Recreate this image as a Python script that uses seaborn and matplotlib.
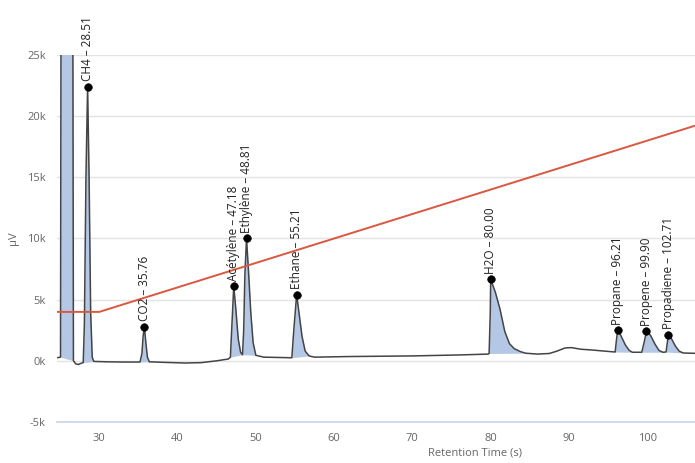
import numpy as np
import pandas as pd
import matplotlib
matplotlib.use("Agg")
import matplotlib.pyplot as plt
import seaborn as sns

# chromatogram trace (time in s, signal in uV)
trace_t = [24.6, 25.05, 25.12, 26.62, 26.7, 27.0, 27.3, 27.7, 27.95,
           28.1, 28.3, 28.51, 28.7, 28.9, 29.1, 29.3,
           31.0, 33.0, 35.2, 35.45, 35.6, 35.76, 35.95, 36.15, 36.4,
           38.0, 41.0, 43.0, 45.0, 46.5,
           46.75, 46.95, 47.18, 47.45, 47.75, 48.05, 48.3,
           48.45, 48.6, 48.81, 49.05, 49.35, 49.65, 50.0, 51.0,
           54.6, 54.85, 55.21, 55.5, 55.9, 56.3, 56.8, 57.5,
           62.0, 70.0, 76.0, 79.7,
           79.8, 79.95, 80.0, 80.6, 81.2, 81.8, 82.4, 83.0, 83.8, 84.5, 86.0, 87.5,
           88.5, 89.5, 90.3, 91.5, 93.0, 95.5,
           95.9, 96.05, 96.21, 96.6, 97.2, 97.7, 98.1,
           99.3, 99.6, 99.9, 100.4, 101.0, 101.5, 102.0,
           102.4, 102.55, 102.71, 103.1, 103.6, 104.1, 104.6, 106.2]
trace_v = [250, 300, 30000, 30000, 0, -250, -300, -200, -150,
           3000, 15000, 22400, 15000, 4000, 300, -50,
           -80, -100, -100, 600, 2000, 2800, 1500, 300, -80,
           -120, -180, -150, 0, 150,
           300, 3000, 6100, 4200, 1800, 700, 500,
           2500, 7000, 10000, 7500, 4000, 1500, 450, 300,
           250, 2500, 5400, 4000, 2000, 800, 400, 300,
           350, 400, 480, 550,
           600, 4000, 6650, 5600, 4200, 2400, 1400, 1000, 750, 620, 550, 600,
           800, 1050, 1080, 950, 880, 740,
           720, 1600, 2500, 2100, 1300, 850, 700,
           700, 1500, 2400, 2100, 1350, 850, 700,
           720, 1400, 2150, 1800, 1200, 780, 640, 610]

# integrated peak windows (shaded down to a straight baseline)
fill_start = [25.05, 27.95, 35.2, 46.75, 48.3, 54.6, 79.8, 95.9, 99.3, 102.4]
fill_end = [26.7, 29.3, 36.4, 48.3, 50.0, 56.8, 84.5, 98.1, 102.0, 104.6]

# labelled peaks
peak_names = ["CH4", "CO2", "Acétylène", "Ethylène", "Ethane", "H2O",
              "Propane", "Propene", "Propadiene"]
peak_times = [28.51, 35.76, 47.18, 48.81, 55.21, 80.00, 96.21, 99.90, 102.71]
peak_heights = [22400, 2800, 6100, 10000, 5400, 6650, 2500, 2400, 2150]

# program line
ramp_t = [24.6, 30, 110]
ramp_v = [4000, 4000, 20000]

y_ticks = [-5000, 0, 5000, 10000, 15000, 20000, 25000]
y_labels = ["-5k", "0k", "5k", "10k", "15k", "20k", "25k"]
x_ticks = [30, 40, 50, 60, 70, 80, 90, 100]

sns.set_theme(style="white")
plt.rcParams["font.family"] = ["Open Sans", "DejaVu Sans"]

df = pd.DataFrame({"t": trace_t, "v": trace_v})
peaks = pd.DataFrame({"name": peak_names, "t": peak_times, "v": peak_heights})
ramp = pd.DataFrame({"t": ramp_t, "v": ramp_v})

fig = plt.figure(figsize=(6.95, 4.63), dpi=100)
ax = fig.add_axes([0.082, 0.0886, 0.918, 0.7926])

t = np.array(trace_t)
v = np.array(trace_v)
for s, e in zip(fill_start, fill_end):
    mask = (t >= s) & (t <= e)
    tt, vv = t[mask], v[mask]
    base = np.interp(tt, [tt[0], tt[-1]], [vv[0], vv[-1]])
    ax.fill_between(tt, vv, base, color="#b4c8e6", linewidth=0, zorder=1)

sns.lineplot(data=df, x="t", y="v", sort=False, estimator=None,
             color="#444444", linewidth=1.1, ax=ax, zorder=2)
sns.lineplot(data=ramp, x="t", y="v", sort=False, estimator=None,
             color="#d9583f", linewidth=1.4, ax=ax, zorder=3)
sns.scatterplot(data=peaks, x="t", y="v", color="black", s=30,
                edgecolor="black", ax=ax, zorder=4)

for name, pt, ph in zip(peak_names, peak_times, peak_heights):
    ax.annotate(f"{name} – {pt:.2f}", (pt, ph), xytext=(0, 4),
                textcoords="offset points", rotation=90, ha="center",
                va="bottom", fontsize=8.5, color="#222222", zorder=5)

ax.set_xlim(24.6, 106.1)
ax.set_ylim(-5000, 25000)
ax.set_yticks(y_ticks)
ax.set_yticklabels(y_labels)
ax.set_xticks(x_ticks)
ax.yaxis.grid(True, color="#e3e3e3", linewidth=1)
ax.xaxis.grid(False)
ax.set_axisbelow(True)

for side in ["top", "right", "left"]:
    ax.spines[side].set_visible(False)
ax.spines["bottom"].set_color("#ccd6eb")
ax.tick_params(axis="x", length=5, color="#ccd6eb", labelsize=8, labelcolor="#666666", pad=3)
ax.tick_params(axis="y", length=0, labelsize=8, labelcolor="#666666", pad=8)

ax.set_xlabel("Retention Time (s)", fontsize=8, color="#666666")
ax.xaxis.set_label_coords(0.655, -0.07)
ax.set_ylabel("μV", fontsize=8, color="#666666")
ax.yaxis.set_label_coords(-0.06, 0.5)

fig.savefig("out.png", dpi=100)
